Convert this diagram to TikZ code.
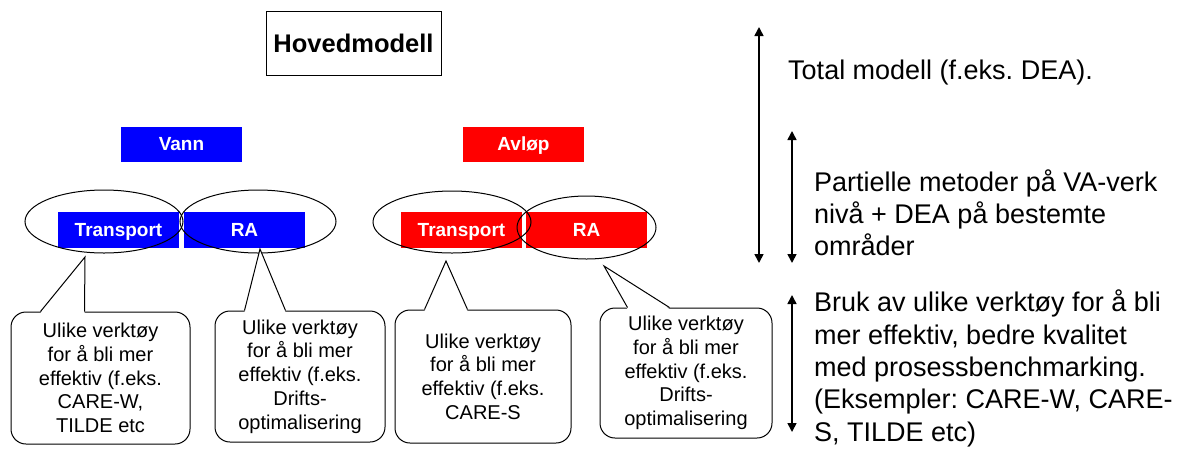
\documentclass[tikz,border=0pt]{standalone}
\usepackage{fontspec}
\setmainfont{Liberation Sans}
\usetikzlibrary{shapes.geometric,arrows.meta,calc}
\frenchspacing

\newcommand\notetail[4]{%
  \fill[white] ($(#1.north west)+(#3,1.5)$) -- (#2) -- ($(#1.north west)+(#4,1.5)$) -- cycle;
  \draw[line width=1pt] ($(#1.north west)+(#3,0)$) -- (#2) -- ($(#1.north west)+(#4,0)$);}

\begin{document}
\begin{tikzpicture}[x=1pt,y=-1pt,
    colbox/.style={fill=#1,text=white,font=\fontsize{19}{22}\selectfont\bfseries,minimum width=121,minimum height=35,inner sep=0pt,text height=13.6pt,text depth=0pt},
    ring/.style={draw,ellipse,line width=1pt,inner sep=0pt},
    bubble/.style={draw,rounded corners=15,line width=1pt,align=center,inner sep=0pt,font=\fontsize{20}{23.7}\selectfont},
    dbl/.style={{Triangle[width=9pt,length=9pt]}-{Triangle[width=9pt,length=9pt]},line width=1.6pt},
    side/.style={anchor=base west,align=left,inner sep=0pt,font=\fontsize{27}{32.3}\selectfont}]
  \useasboundingbox (0,0) rectangle (1184,459);

  \node[draw,line width=1pt,minimum width=175,minimum height=64,inner sep=0pt,font=\fontsize{25.5}{30}\selectfont\bfseries] (hoved) at (353.5,43) {Hovedmodell};

  \node[colbox=blue] (vann) at (181.5,144) {Vann};
  \node[colbox=red] (avlop) at (523.5,144) {Avløp};
  \node[colbox=blue,minimum height=36] (vtrans) at (118.5,230) {Transport};
  \node[colbox=blue,minimum height=36] (vra) at (244.5,230) {RA};
  \node[colbox=red,minimum height=36] (atrans) at (461.5,230) {Transport};
  \node[colbox=red,minimum height=36] (ara) at (586.5,230) {RA};

  \node[ring,minimum width=158,minimum height=63] (vtransring) at (104,221.5) {};
  \node[ring,minimum width=156,minimum height=63] (vraring) at (258,221.5) {};
  \node[ring,minimum width=158,minimum height=62] (atransring) at (452,222) {};
  \node[ring,minimum width=139,minimum height=63] (araring) at (586.5,227.5) {};

  \node[bubble,minimum width=179,minimum height=132] (vtransnote) at (100.5,378) {Ulike verktøy\\for å bli mer\\effektiv (f.eks.\\CARE-W,\\TILDE etc};
  \node[bubble,minimum width=170,minimum height=131] (vranote) at (300,376.5) {Ulike verktøy\\for å bli mer\\effektiv (f.eks.\\Drifts-\\optimalisering};
  \node[bubble,minimum width=176,minimum height=133] (atransnote) at (483,376.5) {Ulike verktøy\\for å bli mer\\effektiv (f.eks.\\CARE-S};
  \node[bubble,minimum width=172,minimum height=130] (aranote) at (686,373) {Ulike verktøy\\for å bli mer\\effektiv (f.eks.\\Drifts-\\optimalisering};

  \coordinate (vtranstip) at (85,257);
  \coordinate (vratip) at (260,249);
  \coordinate (atranstip) at (446,261);
  \coordinate (aratip) at (604,266);
  \notetail{vtransnote}{vtranstip}{30}{74}
  \notetail{vranote}{vratip}{30}{71}
  \notetail{atransnote}{atranstip}{30}{73}
  \notetail{aranote}{aratip}{28}{70}

  \coordinate (totaltop) at (759,27);
  \coordinate (totalbot) at (759,263);
  \coordinate (parttop) at (792,131);
  \coordinate (partbot) at (792,263);
  \coordinate (bruktop) at (792,295);
  \coordinate (brukbot) at (792,432);
  \draw[dbl] (totaltop) -- (totalbot);
  \draw[dbl] (parttop) -- (partbot);
  \draw[dbl] (bruktop) -- (brukbot);

  \node[side] (totaltxt) at (788,79) {Total modell (f.eks. DEA).};
  \node[side] (parttxt) at (814,255.6) {Partielle metoder på VA-verk\\nivå + DEA på bestemte\\områder};
  \node[side] (bruktxt) at (814,441) {Bruk av ulike verktøy for å bli\\mer effektiv, bedre kvalitet\\med prosessbenchmarking.\\(Eksempler: CARE-W, CARE-\\S, TILDE etc)};
\end{tikzpicture}
\end{document}
